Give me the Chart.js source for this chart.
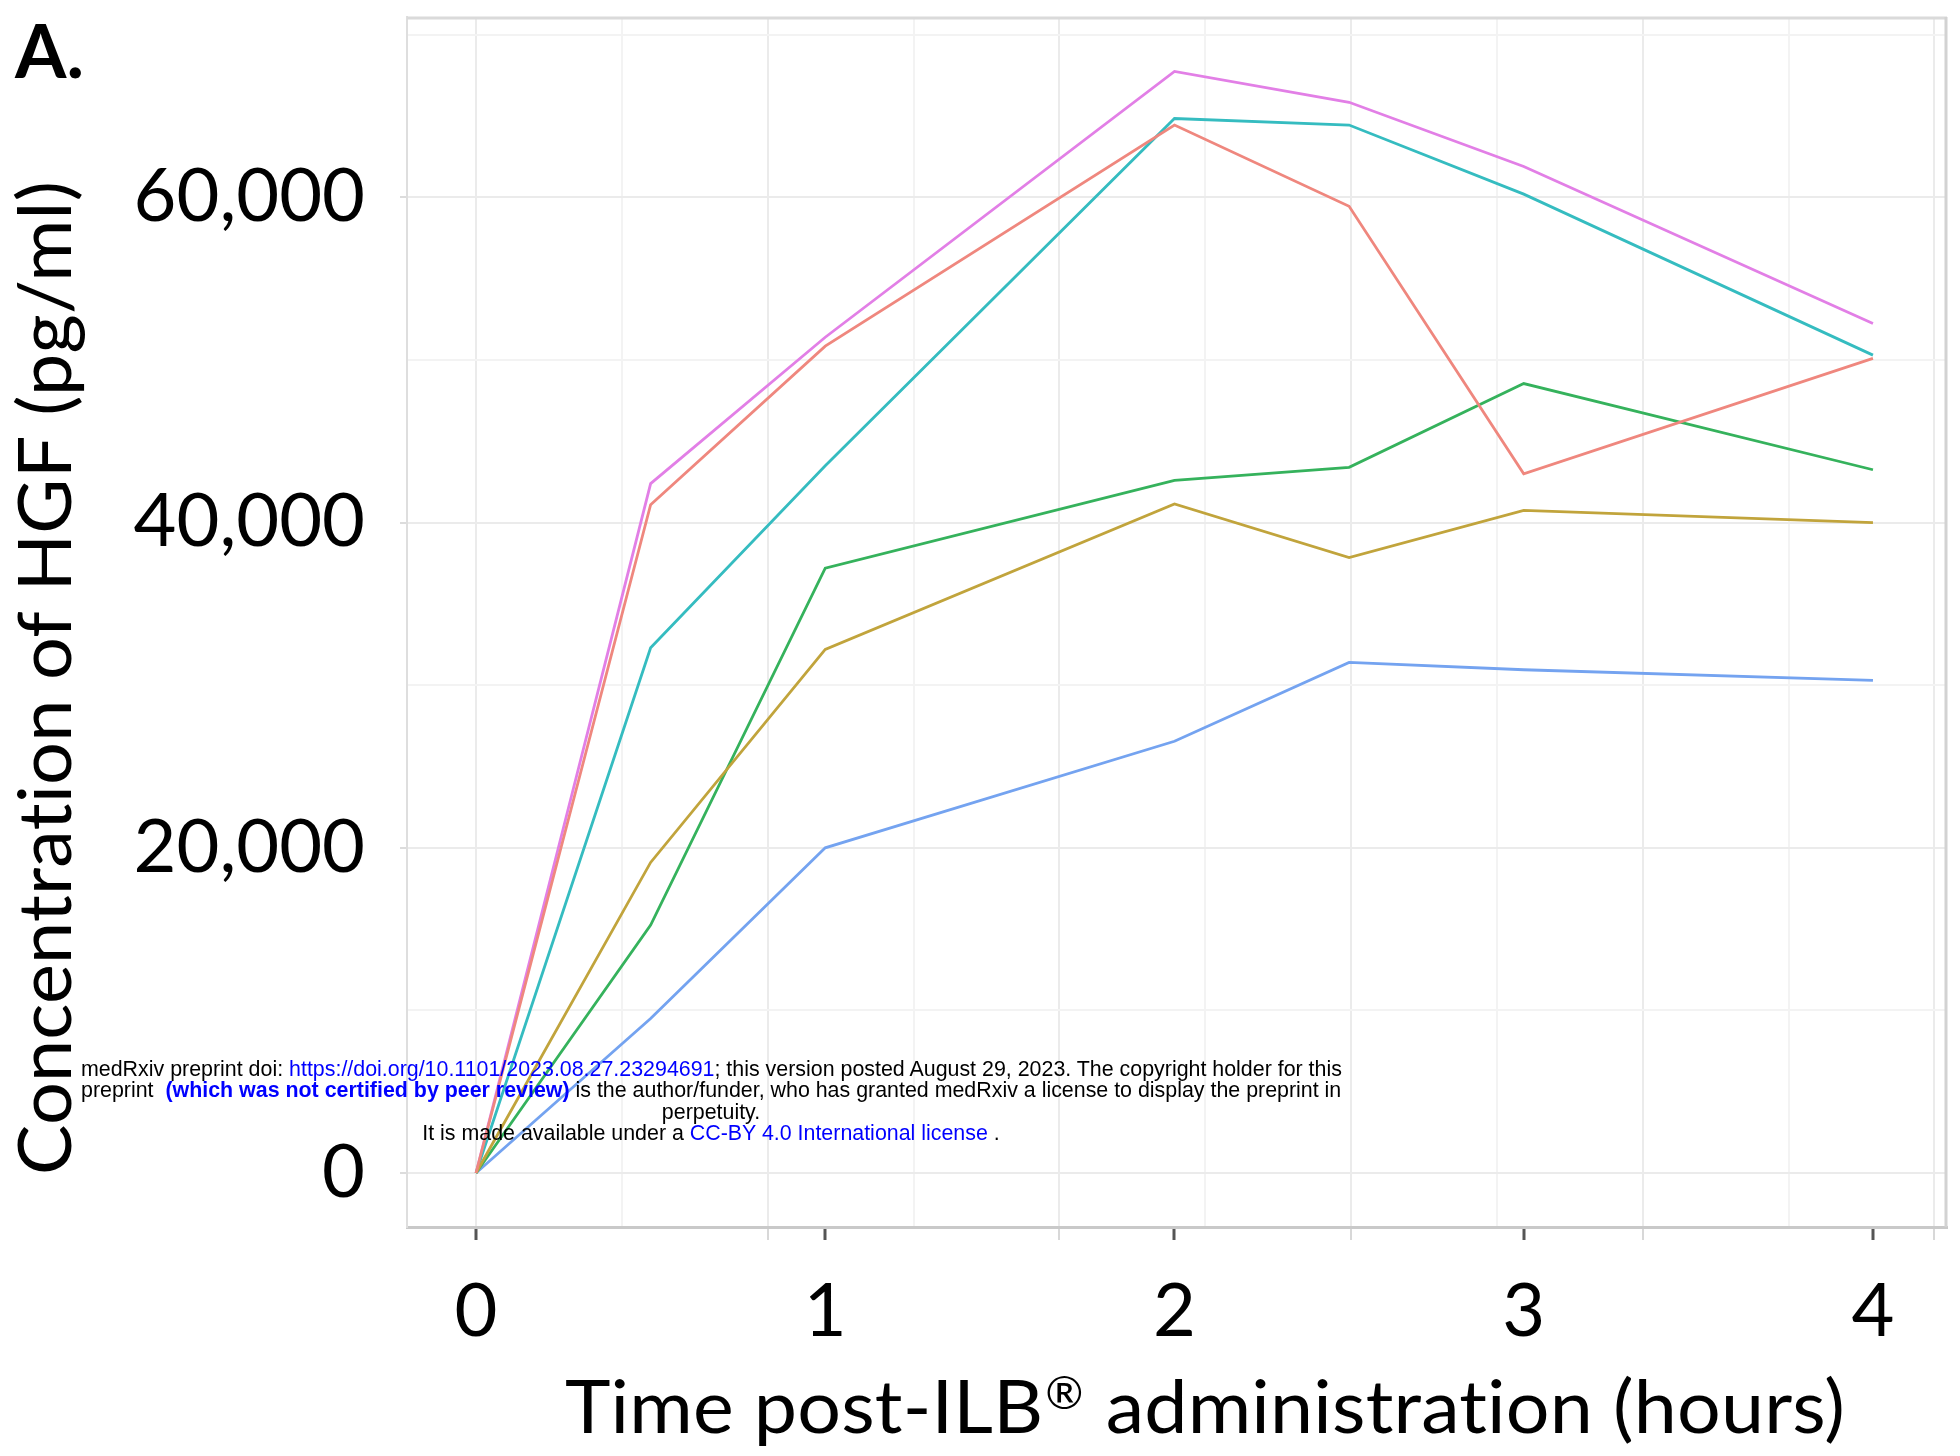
<!DOCTYPE html>
<html>
<head>
<meta charset="utf-8">
<title>HGF concentration after ILB</title>
<script src="https://cdn.jsdelivr.net/npm/chart.js@4.4.1/dist/chart.umd.min.js"></script>
<style>
  html, body { margin: 0; padding: 0; background: #fff; }
  #wrap { position: relative; width: 1960px; height: 1456px; overflow: hidden; }
  #chart { position: absolute; left: 0; top: 0; }
  .stamp { position: absolute; left: 81px; top: 1059px; width: 1260px;
           font-family: 'Liberation Sans', Arial, sans-serif; font-size: 21.4px; line-height: 21.3px; color: #000; }
  .stamp div { text-align: center; white-space: nowrap; }
  .stamp a { color: #0000ff; text-decoration: none; }
  .stamp b { color: #0000ff; }
</style>
</head>
<body>
<div id="wrap">
  <canvas id="chart" width="1960" height="1456"></canvas>
  <div class="stamp">
    <div>medRxiv preprint doi: <a>https://doi.org/10.1101/2023.08.27.23294691</a>; this version posted August 29, 2023. The copyright holder for this</div>
    <div>preprint &nbsp;<b>(which was not certified by peer review)</b> is the author/funder, who has granted medRxiv a license to display the preprint in</div>
    <div>perpetuity.</div>
    <div>It is made available under a <a>CC-BY 4.0 International license</a> .</div>
  </div>
</div>
<script>
(function () {
  // sampling times (hours) and HGF concentration (pg/ml) per participant
  const timePoints = [0, 0.5, 1, 2, 2.5, 3, 4];
  const seriesNames = ['Participant 1', 'Participant 2', 'Participant 3', 'Participant 4', 'Participant 5', 'Participant 6'];
  const hgfP1 = [0, 41100, 50850, 64450, 59450, 43000, 50100];
  const hgfP2 = [0, 19100, 32200, 41150, 37850, 40750, 40000];
  const hgfP3 = [0, 15250, 37200, 42600, 43400, 48550, 43250];
  const hgfP4 = [0, 32300, 43500, 64850, 64450, 60200, 50300];
  const hgfP5 = [0, 9500, 20000, 26550, 31400, 30950, 30300];
  const hgfP6 = [0, 42400, 51400, 67750, 65850, 61900, 52250];

  const xTickHours = [0, 1, 2, 3, 4];
  const yTickValues = [0, 10000, 20000, 30000, 40000, 50000, 60000, 70000];
  const yLabelEvery = 20000;
  const xGridStep = 0.4176;

  // x title is split so the registered mark can be set as a superscript
  const xTitleParts = ['Time post-ILB', '\u00AE', ' administration (hours)'];
  const yTitle = 'Concentration of HGF (pg/ml)';
  const panelLabel = 'A.';

  const palette = ['#ef877e', '#c1a43c', '#35b25c', '#35bcc0', '#74a3f0', '#e27fe6'];
  const allSeries = [hgfP1, hgfP2, hgfP3, hgfP4, hgfP5, hgfP6];
  const labelFont = 'Lato, Carlito, sans-serif';

  const majorGrid = '#ebebeb';
  const minorGrid = '#f3f3f3';

  // x ticks: labelled hours plus the (offset) background grid
  const xTicks = xTickHours.map(h => ({ value: h, label: true, grid: 0 }));
  for (let k = 0; k * xGridStep <= 4.2; k++) {
    const v = k * xGridStep;
    const same = xTicks.find(t => Math.abs(t.value - v) < 1e-6);
    const kind = k % 2 === 0 ? 2 : 1;
    if (same) same.grid = kind; else xTicks.push({ value: v, label: false, grid: kind });
  }

  const panelBorder = {
    id: 'panelBorder',
    beforeDatasetsDraw(chart) {
      const { ctx, chartArea: a } = chart;
      ctx.save();
      ctx.lineWidth = 3;
      ctx.strokeStyle = '#dadada';
      ctx.beginPath();
      ctx.moveTo(a.left, a.top + 1);
      ctx.lineTo(a.right, a.top + 1);
      ctx.stroke();
      ctx.strokeStyle = '#d2d2d2';
      ctx.beginPath();
      ctx.moveTo(a.right - 1, a.top);
      ctx.lineTo(a.right - 1, a.bottom);
      ctx.stroke();
      ctx.restore();
    }
  };

  const titles = {
    id: 'titles',
    afterDraw(chart) {
      const ctx = chart.ctx;
      const big = '74px ' + labelFont;
      const small = '44px ' + labelFont;
      ctx.save();
      ctx.fillStyle = '#000';
      ctx.textAlign = 'left';
      ctx.textBaseline = 'alphabetic';
      // a hair of letter spacing keeps Lato from joining "ti"
      if ('letterSpacing' in ctx) ctx.letterSpacing = '0.2px';

      // x title, squeezed to the width of the original lettering
      ctx.font = big;
      const w0 = ctx.measureText(xTitleParts[0]).width;
      const w2 = ctx.measureText(xTitleParts[2]).width;
      ctx.font = small;
      const w1 = ctx.measureText(xTitleParts[1]).width + 4;
      ctx.save();
      ctx.translate(565, 1433);
      ctx.scale(1280 / (w0 + w1 + w2), 1);
      ctx.font = big;
      ctx.fillText(xTitleParts[0], 0, 0);
      ctx.font = small;
      ctx.fillText(xTitleParts[1], w0 + 2, -24);
      ctx.font = big;
      ctx.fillText(xTitleParts[2], w0 + w1, 0);
      ctx.restore();

      // y title
      ctx.font = big;
      const wy = ctx.measureText(yTitle).width;
      ctx.save();
      ctx.translate(71, 1175);
      ctx.rotate(-Math.PI / 2);
      ctx.scale(994 / wy, 1);
      ctx.fillText(yTitle, 0, 0);
      ctx.restore();

      // panel letter
      ctx.font = 'bold 74px ' + labelFont;
      ctx.fillText(panelLabel, 15, 78);
      ctx.restore();
    }
  };

  function draw() {
    new Chart(document.getElementById('chart'), {
      type: 'line',
      data: {
        datasets: allSeries.map((vals, i) => ({
          label: seriesNames[i],
          data: timePoints.map((t, j) => ({ x: t, y: vals[j] })),
          borderColor: palette[i],
          backgroundColor: palette[i],
          borderWidth: 2.8,
          pointRadius: 0,
          tension: 0,
          fill: false
        }))
      },
      options: {
        responsive: false,
        animation: false,
        devicePixelRatio: 1,
        layout: { padding: { top: 17, right: 13, left: 0, bottom: 0 } },
        plugins: { legend: { display: false }, tooltip: { enabled: false } },
        scales: {
          x: {
            type: 'linear',
            min: -0.1976,
            max: 4.212,
            afterBuildTicks: s => { s.ticks = xTicks.map(t => Object.assign({}, t)); },
            afterFit: s => { s.height = 229; s.paddingLeft = 0; s.paddingRight = 0; },
            ticks: {
              autoSkip: false,
              maxRotation: 0,
              padding: 28,
              color: '#000',
              font: { family: labelFont, size: 74 },
              callback: (v, i, ticks) => ticks[i].label ? String(v) : ''
            },
            grid: {
              lineWidth: 2,
              tickLength: 13,
              color: c => c.tick.grid === 2 ? majorGrid : (c.tick.grid === 1 ? minorGrid : 'rgba(0,0,0,0)'),
              tickColor: c => c.tick.label ? '#555555' : (c.tick.grid === 2 ? '#d8d8d8' : 'rgba(0,0,0,0)'),
              tickWidth: c => c.tick.label ? 3 : 2
            },
            border: { color: '#c9c9c9', width: 3 }
          },
          y: {
            min: -3321,
            max: 71095,
            afterBuildTicks: s => { s.ticks = yTickValues.map(v => ({ value: v })); },
            afterFit: s => { s.width = 407; s.paddingTop = 0; s.paddingBottom = 0; },
            ticks: {
              padding: 35,
              color: '#000',
              font: { family: labelFont, size: 74 },
              callback: v => v % yLabelEvery === 0 ? v.toLocaleString('en-US') : ''
            },
            grid: {
              lineWidth: 2,
              tickLength: 7,
              color: c => c.tick.value % yLabelEvery === 0 ? majorGrid : minorGrid,
              tickColor: c => c.tick.value % yLabelEvery === 0 ? '#dcdcdc' : 'rgba(0,0,0,0)'
            },
            border: { color: '#dedede', width: 2 }
          }
        }
      },
      plugins: [panelBorder, titles]
    });
  }

  if (document.fonts && document.fonts.load) {
    Promise.all([document.fonts.load('74px Lato'), document.fonts.load('bold 74px Lato')]).then(draw, draw);
  } else {
    draw();
  }
})();
</script>
</body>
</html>
